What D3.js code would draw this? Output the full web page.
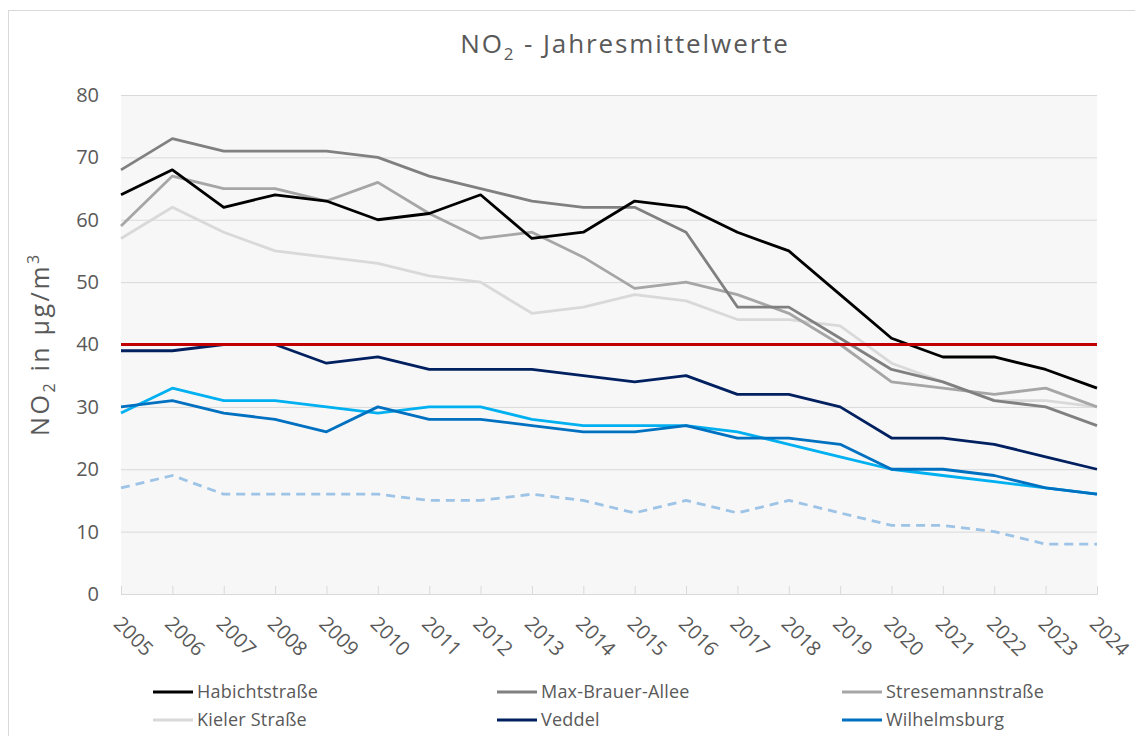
<!DOCTYPE html>
<html>
<head>
<meta charset="utf-8">
<script src="https://cdn.jsdelivr.net/npm/d3@7"></script>
<style>
  body { margin: 0; background: #fff; }
  svg { display: block; font-family: 'Open Sans', sans-serif; }
</style>
</head>
<body>
<svg width="1135" height="736"></svg>
<script>
const years = [2005,2006,2007,2008,2009,2010,2011,2012,2013,2014,2015,2016,2017,2018,2019,2020,2021,2022,2023,2024];
const yTicks = [0,10,20,30,40,50,60,70,80];

const habicht      = [64,68,62,64,63,60,61,64,57,58,63,62,58,55,48,41,38,38,36,33];
const maxBrauer    = [68,73,71,71,71,70,67,65,63,62,62,58,46,46,41,36,34,31,30,27];
const stresemann   = [59,67,65,65,63,66,61,57,58,54,49,50,48,45,40,34,33,32,33,30];
const kieler       = [57,62,58,55,54,53,51,50,45,46,48,47,44,44,43,37,34,31,31,30];
const veddel       = [39,39,40,40,37,38,36,36,36,35,34,35,32,32,30,25,25,24,22,20];
const wilhelmsburg = [30,31,29,28,26,30,28,28,27,26,26,27,25,25,24,20,20,19,17,16];
const station7     = [29,33,31,31,30,29,30,30,28,27,27,27,26,24,22,20,19,18,17,16];
const station8     = [17,19,16,16,16,16,15,15,16,15,13,15,13,15,13,11,11,10,8,8];
const grenzwert    = years.map(() => 40);

// order = drawing order
const series = [
  {name: 'Stadtteil', values: station8, color: '#9dc3e6', dash: '9,6', legend: false},
  {name: 'Messstation', values: station7, color: '#00b0f0', legend: false},
  {name: 'Wilhelmsburg', values: wilhelmsburg, color: '#0070c0', legend: true},
  {name: 'Veddel', values: veddel, color: '#002060', legend: true},
  {name: 'Kieler Straße', values: kieler, color: '#d9d9d9', legend: true},
  {name: 'Stresemannstraße', values: stresemann, color: '#a6a6a6', legend: true},
  {name: 'Max-Brauer-Allee', values: maxBrauer, color: '#808080', legend: true},
  {name: 'Habichtstraße', values: habicht, color: '#000000', legend: true},
  {name: 'Grenzwert', values: grenzwert, color: '#c00000', legend: false}
];
const legendOrder = ['Habichtstraße','Max-Brauer-Allee','Stresemannstraße','Kieler Straße','Veddel','Wilhelmsburg'];

const svg = d3.select('svg');
const textColor = '#595959';

// chart border
svg.append('rect')
  .attr('x', 8.5).attr('y', 10.5).attr('width', 1160).attr('height', 760)
  .attr('fill', '#fff').attr('stroke', '#d9d9d9');

const x = d3.scalePoint().domain(years).range([121, 1097]);
const y = d3.scaleLinear().domain([0, 80]).range([594, 95]);

// plot background
svg.append('rect')
  .attr('x', x(2005)).attr('y', y(80))
  .attr('width', x(2024) - x(2005)).attr('height', y(0) - y(80))
  .attr('fill', '#f7f7f7');

// title
const title = svg.append('text')
  .attr('x', 625).attr('y', 53)
  .attr('text-anchor', 'middle')
  .attr('fill', textColor)
  .style('font-size', '26px')
  .style('letter-spacing', '1.9px');
title.append('tspan').text('NO');
title.append('tspan').attr('dy', 7).style('font-size', '17px').text('2');
title.append('tspan').attr('dy', -7).text(' - Jahresmittelwerte');

// y axis
const yAxis = svg.append('g')
  .attr('transform', `translate(${x(2005)},0)`)
  .call(d3.axisLeft(y).tickValues(yTicks).tickSize(-(x(2024) - x(2005))).tickPadding(22));
yAxis.select('.domain').remove();
yAxis.selectAll('.tick line').attr('stroke', '#d9d9d9');
yAxis.selectAll('.tick text')
  .attr('fill', textColor)
  .style('font-size', '20px')
  .style('font-family', "'Open Sans', sans-serif");

// x axis
const xAxis = svg.append('g')
  .attr('transform', `translate(0,${y(0)})`)
  .call(d3.axisBottom(x).tickSize(-8).tickPadding(0));
xAxis.select('.domain').attr('stroke', '#d9d9d9');
xAxis.selectAll('.tick line').attr('stroke', '#d9d9d9');
xAxis.selectAll('.tick text')
  .attr('fill', textColor)
  .style('font-size', '20px')
  .style('font-family', "'Open Sans', sans-serif")
  .attr('text-anchor', 'start')
  .attr('dy', 0)
  .attr('transform', 'translate(-9,31) rotate(45)');

// y label
const ylab = svg.append('text')
  .attr('transform', 'translate(49,344) rotate(-90)')
  .attr('text-anchor', 'middle')
  .attr('fill', textColor)
  .style('font-size', '25px')
  .style('letter-spacing', '2.6px');
ylab.append('tspan').text('NO');
ylab.append('tspan').attr('dy', 6).style('font-size', '16px').text('2');
ylab.append('tspan').attr('dy', -6).text(' in µg/m');
ylab.append('tspan').attr('dy', -10).style('font-size', '16px').text('3');

// lines
const line = d3.line()
  .x((d, i) => x(years[i]))
  .y(d => y(d));

svg.append('g').selectAll('path')
  .data(series).enter().append('path')
  .attr('d', d => line(d.values))
  .attr('fill', 'none')
  .attr('stroke', d => d.color)
  .attr('stroke-width', 2.8)
  .attr('stroke-dasharray', d => d.dash || null)
  .attr('stroke-linejoin', 'round');

// legend
const legendCols = [153, 497, 842];
const legendRows = [692, 720];
const legend = svg.append('g');
legendOrder.forEach((name, i) => {
  const s = series.find(d => d.name === name);
  const lx = legendCols[i % 3];
  const ly = legendRows[Math.floor(i / 3)];
  legend.append('line')
    .attr('x1', lx).attr('x2', lx + 40)
    .attr('y1', ly).attr('y2', ly)
    .attr('stroke', s.color).attr('stroke-width', 3);
  legend.append('text')
    .attr('x', lx + 44).attr('y', ly + 6)
    .attr('fill', textColor)
    .style('font-size', '18px')
    .style('letter-spacing', '0.2px')
    .text(name);
});
</script>
</body>
</html>
